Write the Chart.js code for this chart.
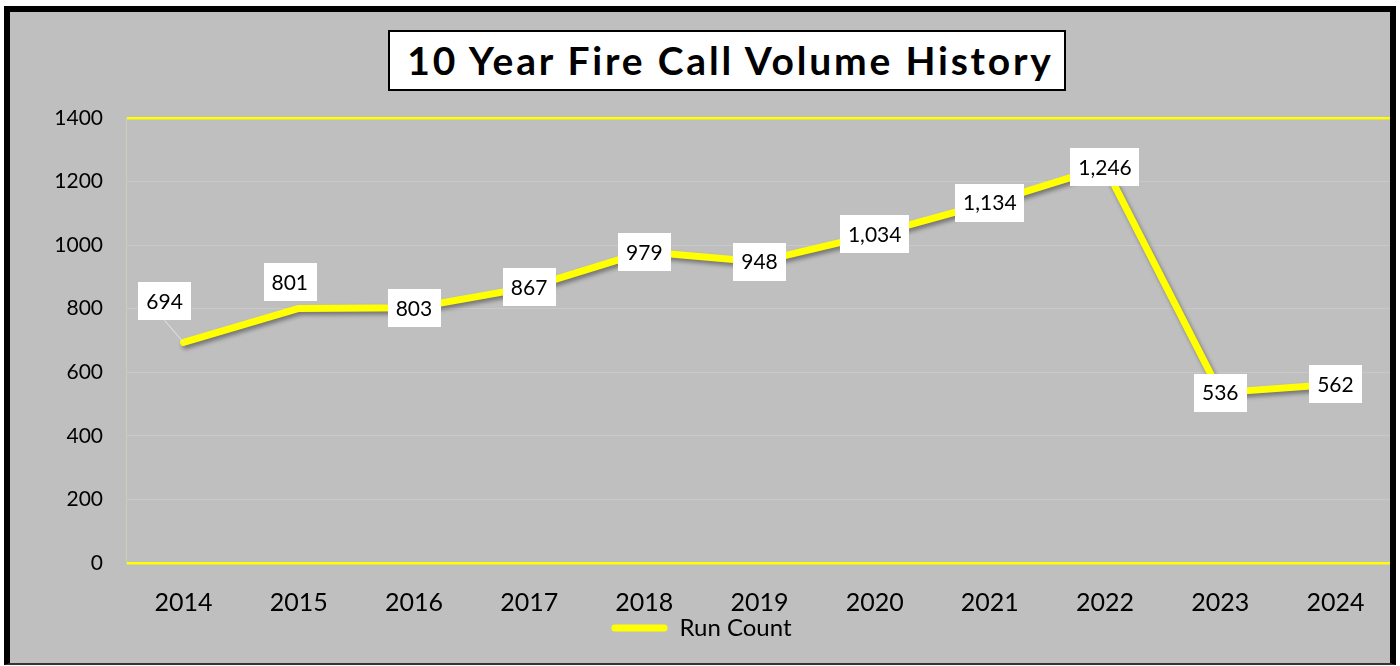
<!DOCTYPE html>
<html>
<head>
<meta charset="utf-8">
<script src="https://cdn.jsdelivr.net/npm/chart.js@4.4.1/dist/chart.umd.min.js"></script>
<style>
html,body{margin:0;padding:0;background:#fff;width:1400px;height:666px;overflow:hidden;font-family:Lato,sans-serif}
#frame{position:absolute;left:4px;top:6px;width:1380px;height:651px;background:#bfbfbf;border:6px solid #000;border-bottom:2px solid #333;overflow:hidden}
#wrap{position:absolute;left:0;top:0;width:1384px;height:651px}
#title{position:absolute;left:378px;top:18px;width:678px;height:61px;box-sizing:border-box;border:2px solid #000;background:#fff;padding-left:7px;
  font:bold 39px Lato,sans-serif;letter-spacing:2.8px;line-height:57px;text-align:center;color:#000}
</style>
</head>
<body>
<div id="frame">
  <div id="wrap"><canvas id="c"></canvas></div>
  <div id="title">10 Year Fire Call Volume History</div>
</div>
<script>
// values
const years = ['2014','2015','2016','2017','2018','2019','2020','2021','2022','2023','2024'];
const runCount = [694, 801, 803, 867, 979, 948, 1034, 1134, 1246, 536, 562];
const seriesName = 'Run Count';
const yMin = 0, yMax = 1400, yStep = 200;

const YELLOW = '#ffff00';
// label nudges (px) for the two labels that are not centred on their point
const labelShift = {0: [-19, -41], 1: [-9, -26]};

const lineShadow = {
  id: 'lineShadow',
  beforeDatasetDraw(chart){ const c = chart.ctx; c.save(); c.shadowColor = 'rgba(0,0,0,0.4)'; c.shadowBlur = 4; c.shadowOffsetX = 2; c.shadowOffsetY = 3; },
  afterDatasetDraw(chart){ chart.ctx.restore(); }
};

const valueLabels = {
  id: 'valueLabels',
  afterDatasetsDraw(chart){
    const ctx = chart.ctx, meta = chart.getDatasetMeta(0);
    ctx.save();
    ctx.font = '21px Lato, sans-serif';
    ctx.textAlign = 'center'; ctx.textBaseline = 'middle';
    meta.data.forEach((pt, i) => {
      const txt = runCount[i].toLocaleString('en-US');
      const [dx, dy] = labelShift[i] || [0, 0];
      const cx = pt.x + dx, cy = pt.y + dy;
      const w = ctx.measureText(txt).width + 16, h = 38;
      if (i === 0) {
        ctx.strokeStyle = '#e6e6e6'; ctx.lineWidth = 1;
        ctx.beginPath(); ctx.moveTo(pt.x, pt.y); ctx.lineTo(cx, cy + h/2); ctx.stroke();
      }
      ctx.fillStyle = '#fff';
      ctx.fillRect(Math.round(cx - w/2), Math.round(cy - h/2), Math.round(w), h);
      ctx.fillStyle = '#000';
      ctx.fillText(txt, cx, cy + 1);
    });
    ctx.restore();
  }
};

new Chart(document.getElementById('c'), {
  type: 'line',
  data: {
    labels: years,
    datasets: [{
      label: seriesName,
      data: runCount,
      borderColor: YELLOW,
      backgroundColor: YELLOW,
      borderWidth: 7,
      pointRadius: 0,
      pointHoverRadius: 0,
      tension: 0,
      borderJoinStyle: 'round',
      borderCapStyle: 'round'
    }]
  },
  options: {
    responsive: true,
    maintainAspectRatio: false,
    animation: false,
    layout: {padding: {top: 106, left: 0, right: 1, bottom: 13}},
    scales: {
      x: {
        offset: true,
        grid: {display: false, drawTicks: false},
        border: {display: false},
        ticks: {color: '#000', padding: 25, font: {family: 'Lato', size: 25}, maxRotation: 0},
        afterFit(s){ s.height = 52; }
      },
      y: {
        min: yMin, max: yMax,
        ticks: {stepSize: yStep, color: '#000', padding: 23, font: {family: 'Lato', size: 21}, callback: v => String(v)},
        grid: {
          drawTicks: false,
          color: c => (c.tick.value === yMin || c.tick.value === yMax) ? YELLOW : '#c9c9c9',
          lineWidth: c => (c.tick.value === yMin || c.tick.value === yMax) ? 2.5 : 1
        },
        border: {display: true, color: '#cdcdb8', width: 1},
        afterFit(s){ s.width = 116; }
      }
    },
    plugins: {
      title: {display: false},
      tooltip: {enabled: false},
      legend: {
        position: 'bottom',
        labels: {
          color: '#000',
          font: {family: 'Lato', size: 24},
          boxWidth: 56, boxHeight: 7,
          useBorderRadius: true, borderRadius: 3,
          padding: 1,
          generateLabels: chart => chart.data.datasets.map((d, i) => ({
            text: d.label, fillStyle: YELLOW, strokeStyle: YELLOW, lineWidth: 0,
            fontColor: '#000', hidden: false, datasetIndex: i, borderRadius: 3
          }))
        }
      }
    }
  },
  plugins: [lineShadow, valueLabels]
});
</script>
</body>
</html>
